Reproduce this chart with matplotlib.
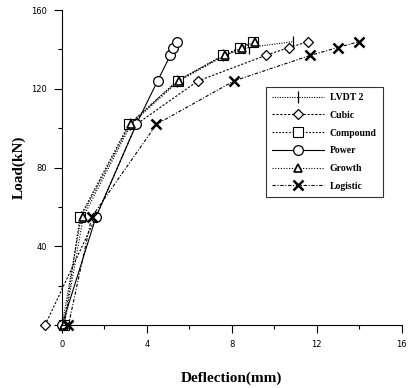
import matplotlib
matplotlib.use("Agg")
import matplotlib.pyplot as plt

# load steps (kN), shared by all series
load = [0, 55, 102, 124, 137, 141, 144]

# deflection (mm) for each series at those loads
lvdt2 = [0.0, 0.9, 3.2, 5.4, 7.6, 8.8, 10.9]
cubic = [-0.8, 1.6, 3.5, 6.4, 9.6, 10.7, 11.6]
compound = [0.1, 0.85, 3.15, 5.45, 7.6, 8.4, 9.0]
power = [0.0, 1.6, 3.5, 4.5, 5.1, 5.25, 5.4]
growth = [0.1, 1.0, 3.25, 5.5, 7.7, 8.5, 9.1]
logistic = [0.3, 1.4, 4.45, 8.1, 11.7, 13.0, 14.0]

x_ticks = [0, 4, 8, 12, 16]
y_ticks = [0, 40, 80, 120, 160]

series = [
    ("LVDT 2", lvdt2, dict(ls=(0, (1, 1.2)), marker="|", ms=9, mew=0.9)),
    ("Cubic", cubic, dict(ls=(0, (2, 1.5)), marker="D", ms=5.5, mew=0.9)),
    ("Compound", compound, dict(ls=(0, (1.5, 1.5)), marker="s", ms=6.5, mew=0.8)),
    ("Power", power, dict(ls="-", marker="o", ms=7, mew=0.9)),
    ("Growth", growth, dict(ls=(0, (1, 1.5)), marker="^", ms=5.5, mew=1.2)),
    ("Logistic", logistic, dict(ls=(0, (3, 1.5, 1, 1.5)), marker="x", ms=7.5, mew=1.8)),
]

fig = plt.figure(figsize=(4.11, 3.88), dpi=100)
ax = fig.add_axes([0.151, 0.162, 0.826, 0.812])

for name, xs, st in series:
    ax.plot(xs, load, color="black", lw=0.8, mfc="white", mec="black",
            label=name, clip_on=False, **st)

ax.set_xlim(0, 16)
ax.set_ylim(0, 160)
ax.set_xticks(x_ticks)
ax.set_yticks(y_ticks)
ax.set_xticks([2, 6, 10, 14], minor=True)
ax.set_yticks([20, 60, 100, 140], minor=True)
ax.tick_params(which="major", direction="out", length=6, width=0.8, labelsize=6, pad=5)
ax.tick_params(which="minor", direction="out", length=3, width=0.8)
for lab in ax.get_xticklabels() + ax.get_yticklabels():
    lab.set_fontfamily("DejaVu Sans")

ax.spines["top"].set_visible(False)
ax.spines["right"].set_visible(False)
ax.spines["left"].set_linewidth(0.8)
ax.spines["bottom"].set_linewidth(0.8)

ax.set_xlabel("Deflection(mm)", family="Liberation Serif", weight="bold",
              fontsize=11, labelpad=16)
ax.set_ylabel("Load(kN)", family="Liberation Serif", weight="bold",
              fontsize=11, labelpad=4)

leg = ax.legend(loc="upper left", bbox_to_anchor=(0.6, 0.755),
                prop=dict(family="Liberation Serif", weight="bold", size=7),
                frameon=True, fancybox=False, edgecolor="black",
                handlelength=5.4, labelspacing=0.9, borderpad=0.6,
                handletextpad=0.6, borderaxespad=0)
leg.get_frame().set_linewidth(0.8)

fig.savefig("out.png", dpi=100)
